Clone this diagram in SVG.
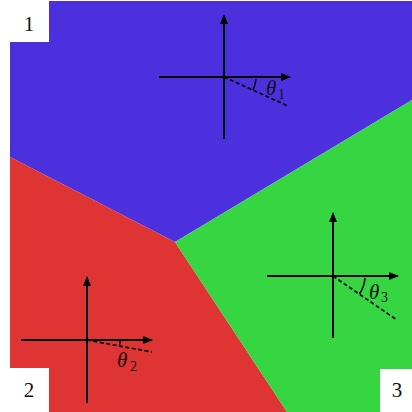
<svg xmlns="http://www.w3.org/2000/svg" width="412" height="412" viewBox="0 0 412 412">
<style>
.ax{stroke:#000;stroke-width:2;fill:none}
.ds{stroke:#000;stroke-width:1.7;stroke-dasharray:4 2.5;fill:none}
.arc{stroke:#000;stroke-width:1.5;fill:none}
.num{font-family:"Liberation Serif",serif;font-size:21px;fill:#111}
.th{font-family:"Liberation Serif",serif;font-style:italic;font-size:21px;fill:#111}
.sub{font-family:"Liberation Serif",serif;font-size:14px;fill:#111}
</style>
<defs>
<marker id="ah" markerWidth="10" markerHeight="8" refX="9" refY="4" orient="auto" markerUnits="userSpaceOnUse">
<path d="M0,0 L10,4 L0,8 Z" fill="#000"/>
</marker>
</defs>
<rect width="412" height="412" fill="#fff"/>
<g id="regions">
<polygon id="region1" points="10,1 412,1 412,100 175,242 10,157" fill="#4c30de"/>
<polygon id="region2" points="10,157 175,242 287,412 10,412" fill="#de3434"/>
<polygon id="region3" points="175,242 412,100 412,412 287,412" fill="#36d642"/>
<rect x="0" y="0" width="49" height="42" fill="#fff"/>
<rect x="0" y="368" width="49" height="44" fill="#fff"/>
<rect x="380" y="369" width="32" height="43" fill="#fff"/>
</g>
<g id="labels">
<text class="num" x="29" y="31" text-anchor="middle">1</text>
<text class="num" x="29" y="397" text-anchor="middle">2</text>
<text class="num" x="397" y="397" text-anchor="middle">3</text>
</g>
<g id="axes1">
<line class="ax" x1="224" y1="139" x2="224" y2="15" marker-end="url(#ah)"/>
<line class="ax" x1="159" y1="77" x2="290" y2="77" marker-end="url(#ah)"/>
<line class="ds" x1="224" y1="77" x2="288" y2="106"/>
<path class="arc" d="M256,79 A32,32 0 0 1 253,90"/>
<text class="th" x="266" y="95">θ</text><text class="sub" x="278" y="99">1</text>
</g>
<g id="axes2">
<line class="ax" x1="87" y1="403" x2="87" y2="277" marker-end="url(#ah)"/>
<line class="ax" x1="21" y1="340" x2="152" y2="340" marker-end="url(#ah)"/>
<line class="ds" x1="87" y1="340" x2="152" y2="352"/>
<path class="arc" d="M120,341 A33,33 0 0 1 119.5,346"/>
<text class="th" x="117" y="367">θ</text><text class="sub" x="130" y="371">2</text>
</g>
<g id="axes3">
<line class="ax" x1="333" y1="338" x2="333" y2="213" marker-end="url(#ah)"/>
<line class="ax" x1="267" y1="276" x2="398" y2="276" marker-end="url(#ah)"/>
<line class="ds" x1="333" y1="276" x2="397" y2="320"/>
<path class="arc" d="M365,278 A32,32 0 0 1 359.4,294"/>
<text class="th" x="369" y="299">θ</text><text class="sub" x="381" y="302">3</text>
</g>
</svg>
